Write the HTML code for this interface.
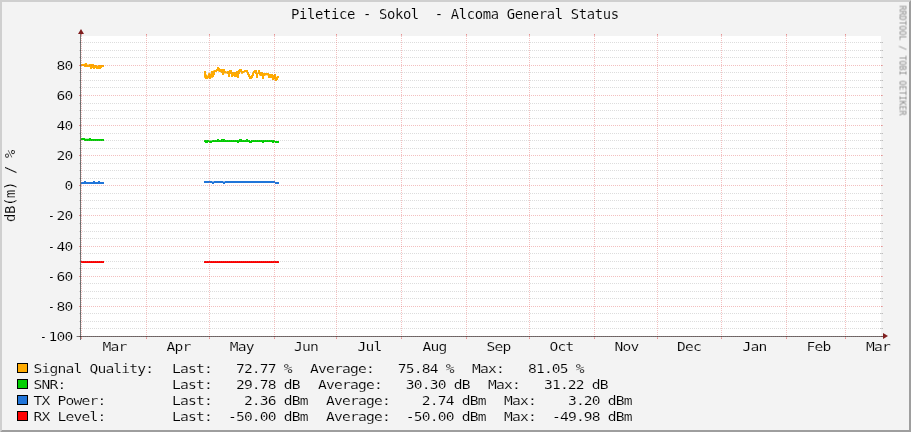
<!DOCTYPE html>
<html><head><meta charset="utf-8"><title>Piletice - Sokol - Alcoma General Status</title>
<style>html,body{margin:0;padding:0;background:#f3f3f3;overflow:hidden}svg{display:block}text{font-family:"DejaVu Sans Mono","Liberation Mono",monospace;fill:#000;white-space:pre}.t{font-size:13.89px;letter-spacing:-0.362px;stroke:#f3f3f3;stroke-width:0.1px;paint-order:fill stroke}.l{font-size:12.6px;letter-spacing:-0.689px;stroke:#f3f3f3;stroke-width:0.14px;paint-order:fill stroke}.a{font-size:12.6px;letter-spacing:-0.689px;stroke:#f3f3f3;stroke-width:0.14px;paint-order:fill stroke}.u{font-size:13.89px;letter-spacing:-0.362px;stroke:#f3f3f3;stroke-width:0.14px;paint-order:fill stroke}.w{font-size:8.3px;letter-spacing:0.003px;fill:#8c8c8c}</style></head><body>
<svg width="911" height="432" viewBox="0 0 911 432">
<rect x="0" y="0" width="911" height="432" fill="#f3f3f3"/>
<polygon points="0,0 911,0 909,2 2,2 2,430 0,432" fill="#cfcfcf"/>
<polygon points="911,0 911,432 0,432 2,430 909,430 909,2" fill="#9e9e9e"/>
<rect x="81" y="36" width="800" height="300" fill="#fff" shape-rendering="crispEdges"/>
<path fill="#FFAB00" d="M81,64 82,64 82,64 83,64 83,64 84,64 84,63.7 85,63.7 85,63.05 86,63.05 86,63.05 87,63.05 87,64.5 88,64.5 88,64.5 89,64.5 89,64 90,64 90,64 91,64 91,64 92,64 92,64 93,64 93,64 94,64 94,65 95,65 95,65 96,65 96,65 97,65 97,66 98,66 98,65 99,65 99,65 100,65 100,65 101,65 101,65 102,65 102,65 103,65 103,65 104,65 104,66.9 103,66.9 103,66.9 102,66.9 102,67.9 101,67.9 101,68.9 100,68.9 100,68.9 99,68.9 99,68.9 98,68.9 98,68.9 97,68.9 97,68.9 96,68.9 96,67.9 95,67.9 95,68.9 94,68.9 94,68.9 93,68.9 93,67.9 92,67.9 92,68.9 91,68.9 91,68.9 90,68.9 90,66.9 89,66.9 89,66.9 88,66.9 88,66.9 87,66.9 87,66.9 86,66.9 86,66.9 85,66.9 85,66.9 84,66.9 84,66 83,66 83,66 82,66 82,66 81,66Z M204,71 205,71 205,71 206,71 206,74.5 207,74.5 207,75.4 208,75.4 208,73.3 209,73.3 209,73.1 210,73.1 210,73.6 211,73.6 211,71 212,71 212,71 213,71 213,70.5 214,70.5 214,70.1 215,70.1 215,70.1 216,70.1 216,68.9 217,68.9 217,67 218,67 218,67 219,67 219,68 220,68 220,69 221,69 221,69 222,69 222,69 223,69 223,69 224,69 224,69 225,69 225,71 226,71 226,71.5 227,71.5 227,71 228,71 228,71 229,71 229,70.1 230,70.1 230,70.1 231,70.1 231,70.1 232,70.1 232,72 233,72 233,72 234,72 234,72 235,72 235,72 236,72 236,71 237,71 237,71 238,71 238,70.1 239,70.1 239,68.9 240,68.9 240,68.9 241,68.9 241,68.9 242,68.9 242,71 243,71 243,71 244,71 244,70.1 245,70.1 245,70.1 246,70.1 246,70.1 247,70.1 247,70.1 248,70.1 248,72 249,72 249,74 250,74 250,75.9 251,75.9 251,75 252,75 252,72.6 253,72.6 253,71 254,71 254,70.1 255,70.1 255,70.1 256,70.1 256,70.1 257,70.1 257,72.6 258,72.6 258,70.1 259,70.1 259,70.1 260,70.1 260,72 261,72 261,72 262,72 262,72 263,72 263,73.1 264,73.1 264,73.1 265,73.1 265,73.1 266,73.1 266,73.1 267,73.1 267,73.1 268,73.1 268,73.1 269,73.1 269,74 270,74 270,74 271,74 271,74 272,74 272,74 273,74 273,75 274,75 274,74 275,74 275,74 276,74 276,76.8 277,76.8 277,76.1 278,76.1 278,76.1 279,76.1 279,78 278,78 278,80.1 277,80.1 277,81 276,81 276,81 275,81 275,79.6 274,79.6 274,80.1 273,80.1 273,80.1 272,80.1 272,78 271,78 271,78 270,78 270,78 269,78 269,78 268,78 268,75.4 267,75.4 267,75.2 266,75.2 266,75.4 265,75.4 265,75.9 264,75.9 264,78.9 263,78.9 263,78.9 262,78.9 262,75.9 261,75.9 261,75.9 260,75.9 260,75.4 259,75.4 259,74 258,74 258,78 257,78 257,78 256,78 256,74 255,74 255,73.1 254,73.1 254,75.9 253,75.9 253,78 252,78 252,78.9 251,78.9 251,78.9 250,78.9 250,78.9 249,78.9 249,77 248,77 248,75 247,75 247,72.6 246,72.6 246,72 245,72 245,72.4 244,72.4 244,73.1 243,73.1 243,73.8 242,73.8 242,73.8 241,73.8 241,72 240,72 240,74 239,74 239,78 238,78 238,78 237,78 237,77 236,77 236,77 235,77 235,77 234,77 234,75.9 233,75.9 233,77 232,77 232,77 231,77 231,74 230,74 230,77 229,77 229,77 228,77 228,74 227,74 227,73.6 226,73.6 226,73.6 225,73.6 225,73.6 224,73.6 224,75 223,75 223,75 222,75 222,73.1 221,73.1 221,72 220,72 220,72 219,72 219,71.5 218,71.5 218,71 217,71 217,72 216,72 216,72 215,72 215,75 214,75 214,77 213,77 213,77.7 212,77.7 212,77.7 211,77.7 211,78.9 210,78.9 210,78.9 209,78.9 209,78.2 208,78.2 208,78.9 207,78.9 207,78.9 206,78.9 206,78.9 205,78.9 205,77.7 204,77.7Z"/>
<path fill="#00CF00" d="M81,138 82,138 82,138 83,138 83,138 84,138 84,138 85,138 85,138.7 86,138.7 86,138.7 87,138.7 87,138.7 88,138.7 88,138.7 89,138.7 89,138 90,138 90,138 91,138 91,139 92,139 92,139 93,139 93,139 94,139 94,139 95,139 95,139 96,139 96,139 97,139 97,139 98,139 98,139 99,139 99,139 100,139 100,139 101,139 101,139 102,139 102,139 103,139 103,139 104,139 104,141 103,141 103,141 102,141 102,141 101,141 101,141 100,141 100,141 99,141 99,141 98,141 98,141 97,141 97,141 96,141 96,141 95,141 95,141 94,141 94,141 93,141 93,141 92,141 92,141 91,141 91,141 90,141 90,141 89,141 89,141 88,141 88,141 87,141 87,141 86,141 86,141 85,141 85,141 84,141 84,140 83,140 83,140 82,140 82,140 81,140Z M204,140 205,140 205,140 206,140 206,140 207,140 207,140 208,140 208,140 209,140 209,140.5 210,140.5 210,140.5 211,140.5 211,140.5 212,140.5 212,140 213,140 213,140 214,140 214,140 215,140 215,140 216,140 216,140 217,140 217,139 218,139 218,139 219,139 219,140 220,140 220,140 221,140 221,139 222,139 222,139 223,139 223,139 224,139 224,139 225,139 225,140 226,140 226,140 227,140 227,140 228,140 228,140 229,140 229,140 230,140 230,140 231,140 231,140 232,140 232,140 233,140 233,140 234,140 234,140 235,140 235,140 236,140 236,140 237,140 237,140 238,140 238,140 239,140 239,139 240,139 240,139 241,139 241,139 242,139 242,140 243,140 243,140 244,140 244,140 245,140 245,140 246,140 246,139 247,139 247,139 248,139 248,140 249,140 249,140 250,140 250,141 251,141 251,140 252,140 252,140 253,140 253,140 254,140 254,140 255,140 255,140 256,140 256,140 257,140 257,140 258,140 258,140 259,140 259,140 260,140 260,140 261,140 261,140 262,140 262,140 263,140 263,140 264,140 264,140 265,140 265,140 266,140 266,140 267,140 267,140 268,140 268,140 269,140 269,140 270,140 270,140 271,140 271,140 272,140 272,140 273,140 273,140 274,140 274,140 275,140 275,141 276,141 276,141 277,141 277,141 278,141 278,141 279,141 279,143 278,143 278,143 277,143 277,143 276,143 276,143 275,143 275,142 274,142 274,143 273,143 273,143 272,143 272,142 271,142 271,142 270,142 270,142 269,142 269,142 268,142 268,142 267,142 267,142 266,142 266,142 265,142 265,142 264,142 264,143 263,143 263,143 262,143 262,142 261,142 261,142 260,142 260,142 259,142 259,142 258,142 258,142 257,142 257,142 256,142 256,142 255,142 255,142 254,142 254,142 253,142 253,142 252,142 252,143 251,143 251,143 250,143 250,143 249,143 249,142 248,142 248,142 247,142 247,142 246,142 246,142 245,142 245,142 244,142 244,142 243,142 243,142 242,142 242,142 241,142 241,142 240,142 240,142 239,142 239,143 238,143 238,143 237,143 237,142 236,142 236,142 235,142 235,142 234,142 234,142 233,142 233,142 232,142 232,142 231,142 231,142 230,142 230,142 229,142 229,142 228,142 228,142 227,142 227,142 226,142 226,142 225,142 225,142 224,142 224,142 223,142 223,142 222,142 222,142 221,142 221,142 220,142 220,142 219,142 219,142 218,142 218,142 217,142 217,142 216,142 216,142 215,142 215,142 214,142 214,142 213,142 213,142 212,142 212,143 211,143 211,143 210,143 210,143 209,143 209,142 208,142 208,143 207,143 207,143 206,143 206,143 205,143 205,142 204,142Z"/>
<path fill="#2175D9" d="M81,182 82,182 82,182 83,182 83,182 84,182 84,181 85,181 85,181 86,181 86,182 87,182 87,182 88,182 88,182 89,182 89,182 90,182 90,182 91,182 91,182 92,182 92,182 93,182 93,181 94,181 94,181 95,181 95,182 96,182 96,182 97,182 97,182 98,182 98,181 99,181 99,181 100,181 100,182 101,182 101,182 102,182 102,182 103,182 103,182 104,182 104,184 103,184 103,184 102,184 102,184 101,184 101,184 100,184 100,184 99,184 99,184 98,184 98,184 97,184 97,184 96,184 96,184 95,184 95,184 94,184 94,184 93,184 93,184 92,184 92,184 91,184 91,184 90,184 90,184 89,184 89,184 88,184 88,184 87,184 87,184 86,184 86,184 85,184 85,184 84,184 84,184 83,184 83,184 82,184 82,184 81,184Z M204,181 205,181 205,181 206,181 206,181 207,181 207,181 208,181 208,181 209,181 209,181 210,181 210,181 211,181 211,181 212,181 212,181.6 213,181.6 213,181.6 214,181.6 214,181 215,181 215,181 216,181 216,181 217,181 217,181 218,181 218,181 219,181 219,181 220,181 220,181 221,181 221,181 222,181 222,181 223,181 223,181.6 224,181.6 224,181.6 225,181.6 225,181 226,181 226,181 227,181 227,181 228,181 228,181 229,181 229,181 230,181 230,181 231,181 231,181 232,181 232,181 233,181 233,181 234,181 234,181 235,181 235,181 236,181 236,181 237,181 237,181 238,181 238,181 239,181 239,181 240,181 240,181 241,181 241,181 242,181 242,181 243,181 243,181 244,181 244,181 245,181 245,181 246,181 246,181 247,181 247,181 248,181 248,181 249,181 249,181 250,181 250,181 251,181 251,181 252,181 252,181 253,181 253,181 254,181 254,181 255,181 255,181 256,181 256,181 257,181 257,181 258,181 258,181 259,181 259,181 260,181 260,181 261,181 261,181 262,181 262,181 263,181 263,181 264,181 264,181 265,181 265,181 266,181 266,181 267,181 267,181 268,181 268,181 269,181 269,181 270,181 270,181 271,181 271,181 272,181 272,181 273,181 273,181 274,181 274,181 275,181 275,182 276,182 276,182 277,182 277,182 278,182 278,182 279,182 279,184 278,184 278,184 277,184 277,184 276,184 276,184 275,184 275,183 274,183 274,183 273,183 273,183 272,183 272,183 271,183 271,183 270,183 270,183 269,183 269,183 268,183 268,183 267,183 267,183 266,183 266,183 265,183 265,183 264,183 264,183 263,183 263,183 262,183 262,183 261,183 261,183 260,183 260,183 259,183 259,183 258,183 258,183 257,183 257,183 256,183 256,183 255,183 255,183 254,183 254,183 253,183 253,183 252,183 252,183 251,183 251,183 250,183 250,183 249,183 249,183 248,183 248,183 247,183 247,183 246,183 246,183 245,183 245,183 244,183 244,183 243,183 243,183 242,183 242,183 241,183 241,183 240,183 240,183 239,183 239,183 238,183 238,183 237,183 237,183 236,183 236,183 235,183 235,183 234,183 234,183 233,183 233,183 232,183 232,183 231,183 231,183 230,183 230,183 229,183 229,183 228,183 228,183 227,183 227,183 226,183 226,183 225,183 225,184 224,184 224,184 223,184 223,183 222,183 222,183 221,183 221,183 220,183 220,183 219,183 219,183 218,183 218,183 217,183 217,183 216,183 216,183 215,183 215,183 214,183 214,184 213,184 213,184 212,184 212,183 211,183 211,183 210,183 210,183 209,183 209,183 208,183 208,183 207,183 207,183 206,183 206,183 205,183 205,183 204,183Z"/>
<path fill="#FF0000" d="M81,261 82,261 82,261 83,261 83,261 84,261 84,261 85,261 85,261 86,261 86,261 87,261 87,261 88,261 88,261 89,261 89,261 90,261 90,261 91,261 91,261 92,261 92,261 93,261 93,261 94,261 94,261 95,261 95,261 96,261 96,261 97,261 97,261 98,261 98,261 99,261 99,261 100,261 100,261 101,261 101,261 102,261 102,261 103,261 103,261 104,261 104,263 103,263 103,263 102,263 102,263 101,263 101,263 100,263 100,263 99,263 99,263 98,263 98,263 97,263 97,263 96,263 96,263 95,263 95,263 94,263 94,263 93,263 93,263 92,263 92,263 91,263 91,263 90,263 90,263 89,263 89,263 88,263 88,263 87,263 87,263 86,263 86,263 85,263 85,263 84,263 84,263 83,263 83,263 82,263 82,263 81,263Z M204,261 205,261 205,261 206,261 206,261 207,261 207,261 208,261 208,261 209,261 209,261 210,261 210,261 211,261 211,261 212,261 212,261 213,261 213,261 214,261 214,261 215,261 215,261 216,261 216,261 217,261 217,261 218,261 218,261 219,261 219,261 220,261 220,261 221,261 221,261 222,261 222,261 223,261 223,261 224,261 224,261 225,261 225,261 226,261 226,261 227,261 227,261 228,261 228,261 229,261 229,261 230,261 230,261 231,261 231,261 232,261 232,261 233,261 233,261 234,261 234,261 235,261 235,261 236,261 236,261 237,261 237,261 238,261 238,261 239,261 239,261 240,261 240,261 241,261 241,261 242,261 242,261 243,261 243,261 244,261 244,261 245,261 245,261 246,261 246,261 247,261 247,261 248,261 248,261 249,261 249,261 250,261 250,261 251,261 251,261 252,261 252,261 253,261 253,261 254,261 254,261 255,261 255,261 256,261 256,261 257,261 257,261 258,261 258,261 259,261 259,261 260,261 260,261 261,261 261,261 262,261 262,261 263,261 263,261 264,261 264,261 265,261 265,261 266,261 266,261 267,261 267,261 268,261 268,261 269,261 269,261 270,261 270,261 271,261 271,261 272,261 272,261 273,261 273,261 274,261 274,261 275,261 275,261 276,261 276,261 277,261 277,261 278,261 278,261 279,261 279,263 278,263 278,263 277,263 277,263 276,263 276,263 275,263 275,263 274,263 274,263 273,263 273,263 272,263 272,263 271,263 271,263 270,263 270,263 269,263 269,263 268,263 268,263 267,263 267,263 266,263 266,263 265,263 265,263 264,263 264,263 263,263 263,263 262,263 262,263 261,263 261,263 260,263 260,263 259,263 259,263 258,263 258,263 257,263 257,263 256,263 256,263 255,263 255,263 254,263 254,263 253,263 253,263 252,263 252,263 251,263 251,263 250,263 250,263 249,263 249,263 248,263 248,263 247,263 247,263 246,263 246,263 245,263 245,263 244,263 244,263 243,263 243,263 242,263 242,263 241,263 241,263 240,263 240,263 239,263 239,263 238,263 238,263 237,263 237,263 236,263 236,263 235,263 235,263 234,263 234,263 233,263 233,263 232,263 232,263 231,263 231,263 230,263 230,263 229,263 229,263 228,263 228,263 227,263 227,263 226,263 226,263 225,263 225,263 224,263 224,263 223,263 223,263 222,263 222,263 221,263 221,263 220,263 220,263 219,263 219,263 218,263 218,263 217,263 217,263 216,263 216,263 215,263 215,263 214,263 214,263 213,263 213,263 212,263 212,263 211,263 211,263 210,263 210,263 209,263 209,263 208,263 208,263 207,263 207,263 206,263 206,263 205,263 205,263 204,263Z"/>
<g shape-rendering="crispEdges" fill="none" stroke-width="1">
<line x1="79" y1="336.5" x2="883" y2="336.5" stroke="rgba(222,79,79,0.36)" stroke-dasharray="1 1"/>
<line x1="79" y1="336.5" x2="81" y2="336.5" stroke="rgba(222,79,79,0.36)"/>
<line x1="881" y1="336.5" x2="883" y2="336.5" stroke="rgba(222,79,79,0.36)"/>
<line x1="80" y1="328.5" x2="883" y2="328.5" stroke="rgba(143,143,143,0.30)" stroke-dasharray="1 1"/>
<line x1="79" y1="328.5" x2="81" y2="328.5" stroke="rgba(143,143,143,0.30)"/>
<line x1="880" y1="328.5" x2="883" y2="328.5" stroke="rgba(143,143,143,0.30)"/>
<line x1="80" y1="321.5" x2="883" y2="321.5" stroke="rgba(143,143,143,0.30)" stroke-dasharray="1 1"/>
<line x1="79" y1="321.5" x2="81" y2="321.5" stroke="rgba(143,143,143,0.30)"/>
<line x1="880" y1="321.5" x2="883" y2="321.5" stroke="rgba(143,143,143,0.30)"/>
<line x1="80" y1="313.5" x2="883" y2="313.5" stroke="rgba(143,143,143,0.30)" stroke-dasharray="1 1"/>
<line x1="79" y1="313.5" x2="81" y2="313.5" stroke="rgba(143,143,143,0.30)"/>
<line x1="880" y1="313.5" x2="883" y2="313.5" stroke="rgba(143,143,143,0.30)"/>
<line x1="79" y1="306.5" x2="883" y2="306.5" stroke="rgba(222,79,79,0.36)" stroke-dasharray="1 1"/>
<line x1="79" y1="306.5" x2="81" y2="306.5" stroke="rgba(222,79,79,0.36)"/>
<line x1="881" y1="306.5" x2="883" y2="306.5" stroke="rgba(222,79,79,0.36)"/>
<line x1="80" y1="298.5" x2="883" y2="298.5" stroke="rgba(143,143,143,0.30)" stroke-dasharray="1 1"/>
<line x1="79" y1="298.5" x2="81" y2="298.5" stroke="rgba(143,143,143,0.30)"/>
<line x1="880" y1="298.5" x2="883" y2="298.5" stroke="rgba(143,143,143,0.30)"/>
<line x1="80" y1="291.5" x2="883" y2="291.5" stroke="rgba(143,143,143,0.30)" stroke-dasharray="1 1"/>
<line x1="79" y1="291.5" x2="81" y2="291.5" stroke="rgba(143,143,143,0.30)"/>
<line x1="880" y1="291.5" x2="883" y2="291.5" stroke="rgba(143,143,143,0.30)"/>
<line x1="80" y1="283.5" x2="883" y2="283.5" stroke="rgba(143,143,143,0.30)" stroke-dasharray="1 1"/>
<line x1="79" y1="283.5" x2="81" y2="283.5" stroke="rgba(143,143,143,0.30)"/>
<line x1="880" y1="283.5" x2="883" y2="283.5" stroke="rgba(143,143,143,0.30)"/>
<line x1="79" y1="276.5" x2="883" y2="276.5" stroke="rgba(222,79,79,0.36)" stroke-dasharray="1 1"/>
<line x1="79" y1="276.5" x2="81" y2="276.5" stroke="rgba(222,79,79,0.36)"/>
<line x1="881" y1="276.5" x2="883" y2="276.5" stroke="rgba(222,79,79,0.36)"/>
<line x1="80" y1="268.5" x2="883" y2="268.5" stroke="rgba(143,143,143,0.30)" stroke-dasharray="1 1"/>
<line x1="79" y1="268.5" x2="81" y2="268.5" stroke="rgba(143,143,143,0.30)"/>
<line x1="880" y1="268.5" x2="883" y2="268.5" stroke="rgba(143,143,143,0.30)"/>
<line x1="80" y1="261.5" x2="883" y2="261.5" stroke="rgba(143,143,143,0.30)" stroke-dasharray="1 1"/>
<line x1="79" y1="261.5" x2="81" y2="261.5" stroke="rgba(143,143,143,0.30)"/>
<line x1="880" y1="261.5" x2="883" y2="261.5" stroke="rgba(143,143,143,0.30)"/>
<line x1="80" y1="253.5" x2="883" y2="253.5" stroke="rgba(143,143,143,0.30)" stroke-dasharray="1 1"/>
<line x1="79" y1="253.5" x2="81" y2="253.5" stroke="rgba(143,143,143,0.30)"/>
<line x1="880" y1="253.5" x2="883" y2="253.5" stroke="rgba(143,143,143,0.30)"/>
<line x1="79" y1="246.5" x2="883" y2="246.5" stroke="rgba(222,79,79,0.36)" stroke-dasharray="1 1"/>
<line x1="79" y1="246.5" x2="81" y2="246.5" stroke="rgba(222,79,79,0.36)"/>
<line x1="881" y1="246.5" x2="883" y2="246.5" stroke="rgba(222,79,79,0.36)"/>
<line x1="80" y1="238.5" x2="883" y2="238.5" stroke="rgba(143,143,143,0.30)" stroke-dasharray="1 1"/>
<line x1="79" y1="238.5" x2="81" y2="238.5" stroke="rgba(143,143,143,0.30)"/>
<line x1="880" y1="238.5" x2="883" y2="238.5" stroke="rgba(143,143,143,0.30)"/>
<line x1="80" y1="231.5" x2="883" y2="231.5" stroke="rgba(143,143,143,0.30)" stroke-dasharray="1 1"/>
<line x1="79" y1="231.5" x2="81" y2="231.5" stroke="rgba(143,143,143,0.30)"/>
<line x1="880" y1="231.5" x2="883" y2="231.5" stroke="rgba(143,143,143,0.30)"/>
<line x1="80" y1="223.5" x2="883" y2="223.5" stroke="rgba(143,143,143,0.30)" stroke-dasharray="1 1"/>
<line x1="79" y1="223.5" x2="81" y2="223.5" stroke="rgba(143,143,143,0.30)"/>
<line x1="880" y1="223.5" x2="883" y2="223.5" stroke="rgba(143,143,143,0.30)"/>
<line x1="79" y1="215.5" x2="883" y2="215.5" stroke="rgba(222,79,79,0.36)" stroke-dasharray="1 1"/>
<line x1="79" y1="215.5" x2="81" y2="215.5" stroke="rgba(222,79,79,0.36)"/>
<line x1="881" y1="215.5" x2="883" y2="215.5" stroke="rgba(222,79,79,0.36)"/>
<line x1="80" y1="208.5" x2="883" y2="208.5" stroke="rgba(143,143,143,0.30)" stroke-dasharray="1 1"/>
<line x1="79" y1="208.5" x2="81" y2="208.5" stroke="rgba(143,143,143,0.30)"/>
<line x1="880" y1="208.5" x2="883" y2="208.5" stroke="rgba(143,143,143,0.30)"/>
<line x1="80" y1="200.5" x2="883" y2="200.5" stroke="rgba(143,143,143,0.30)" stroke-dasharray="1 1"/>
<line x1="79" y1="200.5" x2="81" y2="200.5" stroke="rgba(143,143,143,0.30)"/>
<line x1="880" y1="200.5" x2="883" y2="200.5" stroke="rgba(143,143,143,0.30)"/>
<line x1="80" y1="193.5" x2="883" y2="193.5" stroke="rgba(143,143,143,0.30)" stroke-dasharray="1 1"/>
<line x1="79" y1="193.5" x2="81" y2="193.5" stroke="rgba(143,143,143,0.30)"/>
<line x1="880" y1="193.5" x2="883" y2="193.5" stroke="rgba(143,143,143,0.30)"/>
<line x1="79" y1="185.5" x2="883" y2="185.5" stroke="rgba(222,79,79,0.36)" stroke-dasharray="1 1"/>
<line x1="79" y1="185.5" x2="81" y2="185.5" stroke="rgba(222,79,79,0.36)"/>
<line x1="881" y1="185.5" x2="883" y2="185.5" stroke="rgba(222,79,79,0.36)"/>
<line x1="80" y1="178.5" x2="883" y2="178.5" stroke="rgba(143,143,143,0.30)" stroke-dasharray="1 1"/>
<line x1="79" y1="178.5" x2="81" y2="178.5" stroke="rgba(143,143,143,0.30)"/>
<line x1="880" y1="178.5" x2="883" y2="178.5" stroke="rgba(143,143,143,0.30)"/>
<line x1="80" y1="170.5" x2="883" y2="170.5" stroke="rgba(143,143,143,0.30)" stroke-dasharray="1 1"/>
<line x1="79" y1="170.5" x2="81" y2="170.5" stroke="rgba(143,143,143,0.30)"/>
<line x1="880" y1="170.5" x2="883" y2="170.5" stroke="rgba(143,143,143,0.30)"/>
<line x1="80" y1="163.5" x2="883" y2="163.5" stroke="rgba(143,143,143,0.30)" stroke-dasharray="1 1"/>
<line x1="79" y1="163.5" x2="81" y2="163.5" stroke="rgba(143,143,143,0.30)"/>
<line x1="880" y1="163.5" x2="883" y2="163.5" stroke="rgba(143,143,143,0.30)"/>
<line x1="79" y1="155.5" x2="883" y2="155.5" stroke="rgba(222,79,79,0.36)" stroke-dasharray="1 1"/>
<line x1="79" y1="155.5" x2="81" y2="155.5" stroke="rgba(222,79,79,0.36)"/>
<line x1="881" y1="155.5" x2="883" y2="155.5" stroke="rgba(222,79,79,0.36)"/>
<line x1="80" y1="148.5" x2="883" y2="148.5" stroke="rgba(143,143,143,0.30)" stroke-dasharray="1 1"/>
<line x1="79" y1="148.5" x2="81" y2="148.5" stroke="rgba(143,143,143,0.30)"/>
<line x1="880" y1="148.5" x2="883" y2="148.5" stroke="rgba(143,143,143,0.30)"/>
<line x1="80" y1="140.5" x2="883" y2="140.5" stroke="rgba(143,143,143,0.30)" stroke-dasharray="1 1"/>
<line x1="79" y1="140.5" x2="81" y2="140.5" stroke="rgba(143,143,143,0.30)"/>
<line x1="880" y1="140.5" x2="883" y2="140.5" stroke="rgba(143,143,143,0.30)"/>
<line x1="80" y1="133.5" x2="883" y2="133.5" stroke="rgba(143,143,143,0.30)" stroke-dasharray="1 1"/>
<line x1="79" y1="133.5" x2="81" y2="133.5" stroke="rgba(143,143,143,0.30)"/>
<line x1="880" y1="133.5" x2="883" y2="133.5" stroke="rgba(143,143,143,0.30)"/>
<line x1="79" y1="125.5" x2="883" y2="125.5" stroke="rgba(222,79,79,0.36)" stroke-dasharray="1 1"/>
<line x1="79" y1="125.5" x2="81" y2="125.5" stroke="rgba(222,79,79,0.36)"/>
<line x1="881" y1="125.5" x2="883" y2="125.5" stroke="rgba(222,79,79,0.36)"/>
<line x1="80" y1="118.5" x2="883" y2="118.5" stroke="rgba(143,143,143,0.30)" stroke-dasharray="1 1"/>
<line x1="79" y1="118.5" x2="81" y2="118.5" stroke="rgba(143,143,143,0.30)"/>
<line x1="880" y1="118.5" x2="883" y2="118.5" stroke="rgba(143,143,143,0.30)"/>
<line x1="80" y1="110.5" x2="883" y2="110.5" stroke="rgba(143,143,143,0.30)" stroke-dasharray="1 1"/>
<line x1="79" y1="110.5" x2="81" y2="110.5" stroke="rgba(143,143,143,0.30)"/>
<line x1="880" y1="110.5" x2="883" y2="110.5" stroke="rgba(143,143,143,0.30)"/>
<line x1="80" y1="103.5" x2="883" y2="103.5" stroke="rgba(143,143,143,0.30)" stroke-dasharray="1 1"/>
<line x1="79" y1="103.5" x2="81" y2="103.5" stroke="rgba(143,143,143,0.30)"/>
<line x1="880" y1="103.5" x2="883" y2="103.5" stroke="rgba(143,143,143,0.30)"/>
<line x1="79" y1="95.5" x2="883" y2="95.5" stroke="rgba(222,79,79,0.36)" stroke-dasharray="1 1"/>
<line x1="79" y1="95.5" x2="81" y2="95.5" stroke="rgba(222,79,79,0.36)"/>
<line x1="881" y1="95.5" x2="883" y2="95.5" stroke="rgba(222,79,79,0.36)"/>
<line x1="80" y1="87.5" x2="883" y2="87.5" stroke="rgba(143,143,143,0.30)" stroke-dasharray="1 1"/>
<line x1="79" y1="87.5" x2="81" y2="87.5" stroke="rgba(143,143,143,0.30)"/>
<line x1="880" y1="87.5" x2="883" y2="87.5" stroke="rgba(143,143,143,0.30)"/>
<line x1="80" y1="80.5" x2="883" y2="80.5" stroke="rgba(143,143,143,0.30)" stroke-dasharray="1 1"/>
<line x1="79" y1="80.5" x2="81" y2="80.5" stroke="rgba(143,143,143,0.30)"/>
<line x1="880" y1="80.5" x2="883" y2="80.5" stroke="rgba(143,143,143,0.30)"/>
<line x1="80" y1="72.5" x2="883" y2="72.5" stroke="rgba(143,143,143,0.30)" stroke-dasharray="1 1"/>
<line x1="79" y1="72.5" x2="81" y2="72.5" stroke="rgba(143,143,143,0.30)"/>
<line x1="880" y1="72.5" x2="883" y2="72.5" stroke="rgba(143,143,143,0.30)"/>
<line x1="79" y1="65.5" x2="883" y2="65.5" stroke="rgba(222,79,79,0.36)" stroke-dasharray="1 1"/>
<line x1="79" y1="65.5" x2="81" y2="65.5" stroke="rgba(222,79,79,0.36)"/>
<line x1="881" y1="65.5" x2="883" y2="65.5" stroke="rgba(222,79,79,0.36)"/>
<line x1="80" y1="57.5" x2="883" y2="57.5" stroke="rgba(143,143,143,0.30)" stroke-dasharray="1 1"/>
<line x1="79" y1="57.5" x2="81" y2="57.5" stroke="rgba(143,143,143,0.30)"/>
<line x1="880" y1="57.5" x2="883" y2="57.5" stroke="rgba(143,143,143,0.30)"/>
<line x1="80" y1="50.5" x2="883" y2="50.5" stroke="rgba(143,143,143,0.30)" stroke-dasharray="1 1"/>
<line x1="79" y1="50.5" x2="81" y2="50.5" stroke="rgba(143,143,143,0.30)"/>
<line x1="880" y1="50.5" x2="883" y2="50.5" stroke="rgba(143,143,143,0.30)"/>
<line x1="80" y1="42.5" x2="883" y2="42.5" stroke="rgba(143,143,143,0.30)" stroke-dasharray="1 1"/>
<line x1="79" y1="42.5" x2="81" y2="42.5" stroke="rgba(143,143,143,0.30)"/>
<line x1="880" y1="42.5" x2="883" y2="42.5" stroke="rgba(143,143,143,0.30)"/>
<line x1="81.5" y1="34" x2="81.5" y2="339" stroke="rgba(222,79,79,0.36)" stroke-dasharray="1 1"/>
<line x1="81.5" y1="336" x2="81.5" y2="339" stroke="rgba(222,79,79,0.36)"/>
<line x1="81.5" y1="34" x2="81.5" y2="36" stroke="rgba(222,79,79,0.36)"/>
<line x1="146.5" y1="34" x2="146.5" y2="339" stroke="rgba(222,79,79,0.36)" stroke-dasharray="1 1"/>
<line x1="146.5" y1="336" x2="146.5" y2="339" stroke="rgba(222,79,79,0.36)"/>
<line x1="146.5" y1="34" x2="146.5" y2="36" stroke="rgba(222,79,79,0.36)"/>
<line x1="209.5" y1="34" x2="209.5" y2="339" stroke="rgba(222,79,79,0.36)" stroke-dasharray="1 1"/>
<line x1="209.5" y1="336" x2="209.5" y2="339" stroke="rgba(222,79,79,0.36)"/>
<line x1="209.5" y1="34" x2="209.5" y2="36" stroke="rgba(222,79,79,0.36)"/>
<line x1="274.5" y1="34" x2="274.5" y2="339" stroke="rgba(222,79,79,0.36)" stroke-dasharray="1 1"/>
<line x1="274.5" y1="336" x2="274.5" y2="339" stroke="rgba(222,79,79,0.36)"/>
<line x1="274.5" y1="34" x2="274.5" y2="36" stroke="rgba(222,79,79,0.36)"/>
<line x1="336.5" y1="34" x2="336.5" y2="339" stroke="rgba(222,79,79,0.36)" stroke-dasharray="1 1"/>
<line x1="336.5" y1="336" x2="336.5" y2="339" stroke="rgba(222,79,79,0.36)"/>
<line x1="336.5" y1="34" x2="336.5" y2="36" stroke="rgba(222,79,79,0.36)"/>
<line x1="401.5" y1="34" x2="401.5" y2="339" stroke="rgba(222,79,79,0.36)" stroke-dasharray="1 1"/>
<line x1="401.5" y1="336" x2="401.5" y2="339" stroke="rgba(222,79,79,0.36)"/>
<line x1="401.5" y1="34" x2="401.5" y2="36" stroke="rgba(222,79,79,0.36)"/>
<line x1="466.5" y1="34" x2="466.5" y2="339" stroke="rgba(222,79,79,0.36)" stroke-dasharray="1 1"/>
<line x1="466.5" y1="336" x2="466.5" y2="339" stroke="rgba(222,79,79,0.36)"/>
<line x1="466.5" y1="34" x2="466.5" y2="36" stroke="rgba(222,79,79,0.36)"/>
<line x1="529.5" y1="34" x2="529.5" y2="339" stroke="rgba(222,79,79,0.36)" stroke-dasharray="1 1"/>
<line x1="529.5" y1="336" x2="529.5" y2="339" stroke="rgba(222,79,79,0.36)"/>
<line x1="529.5" y1="34" x2="529.5" y2="36" stroke="rgba(222,79,79,0.36)"/>
<line x1="594.5" y1="34" x2="594.5" y2="339" stroke="rgba(222,79,79,0.36)" stroke-dasharray="1 1"/>
<line x1="594.5" y1="336" x2="594.5" y2="339" stroke="rgba(222,79,79,0.36)"/>
<line x1="594.5" y1="34" x2="594.5" y2="36" stroke="rgba(222,79,79,0.36)"/>
<line x1="657.5" y1="34" x2="657.5" y2="339" stroke="rgba(222,79,79,0.36)" stroke-dasharray="1 1"/>
<line x1="657.5" y1="336" x2="657.5" y2="339" stroke="rgba(222,79,79,0.36)"/>
<line x1="657.5" y1="34" x2="657.5" y2="36" stroke="rgba(222,79,79,0.36)"/>
<line x1="721.5" y1="34" x2="721.5" y2="339" stroke="rgba(222,79,79,0.36)" stroke-dasharray="1 1"/>
<line x1="721.5" y1="336" x2="721.5" y2="339" stroke="rgba(222,79,79,0.36)"/>
<line x1="721.5" y1="34" x2="721.5" y2="36" stroke="rgba(222,79,79,0.36)"/>
<line x1="786.5" y1="34" x2="786.5" y2="339" stroke="rgba(222,79,79,0.36)" stroke-dasharray="1 1"/>
<line x1="786.5" y1="336" x2="786.5" y2="339" stroke="rgba(222,79,79,0.36)"/>
<line x1="786.5" y1="34" x2="786.5" y2="36" stroke="rgba(222,79,79,0.36)"/>
<line x1="845.5" y1="34" x2="845.5" y2="339" stroke="rgba(222,79,79,0.36)" stroke-dasharray="1 1"/>
<line x1="845.5" y1="336" x2="845.5" y2="339" stroke="rgba(222,79,79,0.36)"/>
<line x1="845.5" y1="34" x2="845.5" y2="36" stroke="rgba(222,79,79,0.36)"/>
</g>
<g shape-rendering="crispEdges" fill="rgba(31,31,31,0.6)">
<rect x="77" y="336" width="808" height="1"/>
<rect x="76" y="336" width="1" height="1" fill="rgba(31,31,31,0.25)"/>
<rect x="80" y="32" width="1" height="308"/>
</g>
<polygon points="883,333 883,339 888,336" fill="#801f1f"/>
<polygon points="78,34 84,34 81,29" fill="#801f1f"/>
<g opacity="0.999">
<text class="t" x="291" y="19">Piletice - Sokol  - Alcoma General Status</text>
<text class="u" transform="translate(15.2,222) rotate(-90)">dB(m) / %</text>
<text class="w" transform="translate(899.5,5.5) rotate(90)">RRDTOOL / TOBI OETIKER</text>
<text class="a" transform="translate(39.9,341) scale(0.9,1)">-</text>
<text class="a" transform="translate(48.5,341) scale(1.16,1)">100</text>
<text class="a" transform="translate(47.9,311) scale(0.9,1)">-</text>
<text class="a" transform="translate(56.5,311) scale(1.16,1)">80</text>
<text class="a" transform="translate(47.9,281) scale(0.9,1)">-</text>
<text class="a" transform="translate(56.5,281) scale(1.16,1)">60</text>
<text class="a" transform="translate(47.9,251) scale(0.9,1)">-</text>
<text class="a" transform="translate(56.5,251) scale(1.16,1)">40</text>
<text class="a" transform="translate(47.9,220) scale(0.9,1)">-</text>
<text class="a" transform="translate(56.5,220) scale(1.16,1)">20</text>
<text class="a" transform="translate(64.5,190) scale(1.16,1)">0</text>
<text class="a" transform="translate(56.5,160) scale(1.16,1)">20</text>
<text class="a" transform="translate(56.5,130) scale(1.16,1)">40</text>
<text class="a" transform="translate(56.5,100) scale(1.16,1)">60</text>
<text class="a" transform="translate(56.5,70) scale(1.16,1)">80</text>
<text class="a" transform="translate(102.5,351) scale(1.16,1)">Mar</text>
<text class="a" transform="translate(166.5,351) scale(1.16,1)">Apr</text>
<text class="a" transform="translate(229.8,351) scale(1.16,1)">May</text>
<text class="a" transform="translate(294.0,351) scale(1.16,1)">Jun</text>
<text class="a" transform="translate(357.5,351) scale(1.16,1)">Jul</text>
<text class="a" transform="translate(422.5,351) scale(1.16,1)">Aug</text>
<text class="a" transform="translate(486.5,351) scale(1.16,1)">Sep</text>
<text class="a" transform="translate(549.5,351) scale(1.16,1)">Oct</text>
<text class="a" transform="translate(614.5,351) scale(1.16,1)">Nov</text>
<text class="a" transform="translate(677.0,351) scale(1.16,1)">Dec</text>
<text class="a" transform="translate(742.5,351) scale(1.16,1)">Jan</text>
<text class="a" transform="translate(806.5,351) scale(1.16,1)">Feb</text>
<text class="a" transform="translate(866.0,351) scale(1.16,1)">Mar</text>
<rect x="17.5" y="363.5" width="10" height="9" fill="#FFAB00" stroke="#000" stroke-width="1" shape-rendering="crispEdges"/>
<text class="l" transform="translate(33.5,373) scale(1.16,1)">Signal Quality:</text>
<text class="l" transform="translate(172,373) scale(1.16,1)">Last:   72.77 %</text>
<text class="l" transform="translate(310,373) scale(1.16,1)">Average:   75.84 %</text>
<text class="l" transform="translate(472,373) scale(1.16,1)">Max:   81.05 %</text>
<rect x="17.5" y="379.5" width="10" height="9" fill="#00CF00" stroke="#000" stroke-width="1" shape-rendering="crispEdges"/>
<text class="l" transform="translate(33.5,389) scale(1.16,1)">SNR:</text>
<text class="l" transform="translate(172,389) scale(1.16,1)">Last:   29.78 dB</text>
<text class="l" transform="translate(318,389) scale(1.16,1)">Average:   30.30 dB</text>
<text class="l" transform="translate(488,389) scale(1.16,1)">Max:   31.22 dB</text>
<rect x="17.5" y="395.5" width="10" height="9" fill="#2175D9" stroke="#000" stroke-width="1" shape-rendering="crispEdges"/>
<text class="l" transform="translate(33.5,405) scale(1.16,1)">TX Power:</text>
<text class="l" transform="translate(172,405) scale(1.16,1)">Last:    2.36 dBm</text>
<text class="l" transform="translate(326,405) scale(1.16,1)">Average:    2.74 dBm</text>
<text class="l" transform="translate(504,405) scale(1.16,1)">Max:    3.20 dBm</text>
<rect x="17.5" y="411.5" width="10" height="9" fill="#FF0000" stroke="#000" stroke-width="1" shape-rendering="crispEdges"/>
<text class="l" transform="translate(33.5,421) scale(1.16,1)">RX Level:</text>
<text class="l" transform="translate(172,421) scale(1.16,1)">Last:  -50.00 dBm</text>
<text class="l" transform="translate(326,421) scale(1.16,1)">Average:  -50.00 dBm</text>
<text class="l" transform="translate(504,421) scale(1.16,1)">Max:  -49.98 dBm</text>
</g>
</svg></body></html>
